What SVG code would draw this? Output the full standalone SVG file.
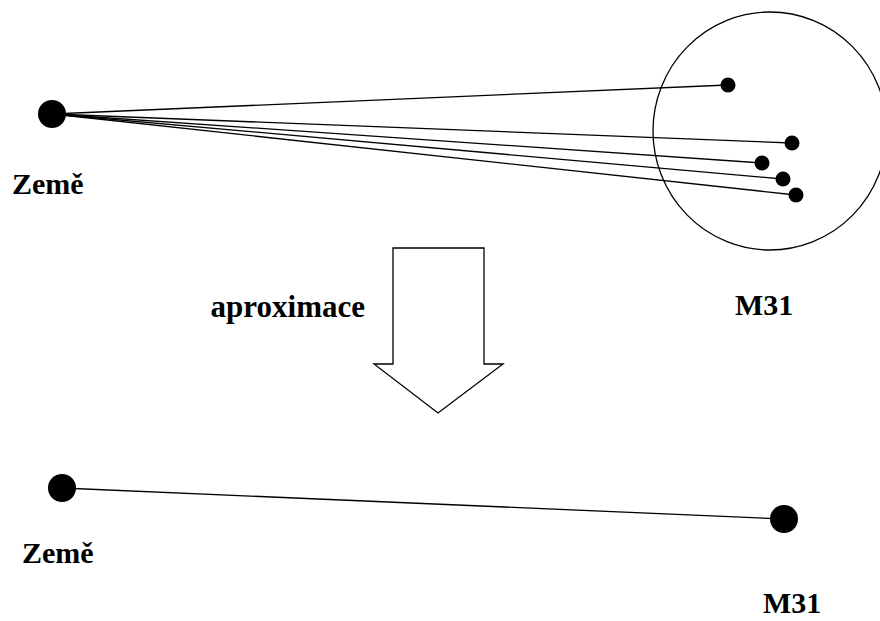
<svg xmlns="http://www.w3.org/2000/svg" width="880" height="621" viewBox="0 0 880 621">
<style>
.ln{stroke:#000;stroke-width:1.3;fill:none}
.big{fill:#000}
.sm{fill:#000}
text{font-family:'Liberation Serif','DejaVu Serif',serif;font-weight:bold;font-size:30px;fill:#000}
</style>
<rect width="880" height="621" fill="#fff"/>
<g id="connectors">
<line class="ln" x1="52" y1="114" x2="728" y2="85"/>
<line class="ln" x1="52" y1="114" x2="792" y2="143"/>
<line class="ln" x1="52" y1="114" x2="762" y2="163"/>
<line class="ln" x1="52" y1="114" x2="783" y2="179"/>
<line class="ln" x1="52" y1="114" x2="796" y2="195"/>
<line class="ln" x1="62" y1="488" x2="784" y2="519"/>
</g>
<g id="m31-top">
<ellipse class="ln" cx="770" cy="131" rx="117" ry="119"/>
<circle class="sm" cx="728" cy="85" r="7.5"/>
<circle class="sm" cx="792" cy="143" r="7.5"/>
<circle class="sm" cx="762" cy="163" r="7.5"/>
<circle class="sm" cx="783" cy="179" r="7.5"/>
<circle class="sm" cx="796" cy="195" r="7.5"/>
<text x="735" y="315">M31</text>
</g>
<g id="zeme-top">
<circle class="big" cx="52" cy="114" r="14"/>
<text x="12" y="194">Země</text>
</g>
<g id="arrow">
<polygon class="ln" points="393,248 484,248 484,364 503,364 438,413 374,364 393,364"/>
<text x="365" y="317" text-anchor="end" style="font-size:31px">aproximace</text>
</g>
<g id="zeme-bottom">
<circle class="big" cx="62" cy="488" r="14"/>
<text x="22" y="563">Země</text>
</g>
<g id="m31-bottom">
<circle class="big" cx="784" cy="519" r="14"/>
<text x="763" y="613">M31</text>
</g>
</svg>
